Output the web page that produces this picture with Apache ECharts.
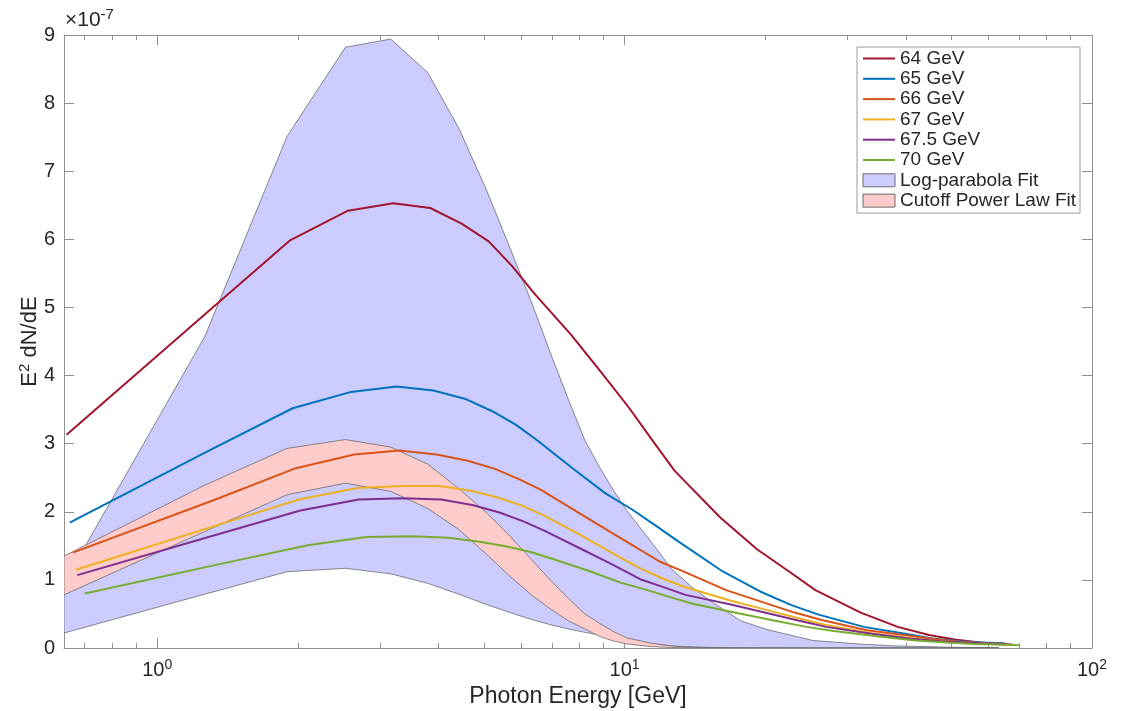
<!DOCTYPE html>
<html>
<head>
<meta charset="utf-8">
<script src="https://cdn.jsdelivr.net/npm/echarts@6/dist/echarts.min.js"></script>
<style>
  html, body { margin: 0; padding: 0; background: #fff; }
  #chart { width: 1128px; height: 711px; }
</style>
</head>
<body>
<div id="chart"></div>
<script>
// all E^2 dN/dE values are in units of 1e-7
const masses = [64, 65, 66, 67, 67.5, 70]
const lineNames = ['64 GeV', '65 GeV', '66 GeV', '67 GeV', '67.5 GeV', '70 GeV']
const lineColors = ['#A2142F', '#0072BD', '#D95319', '#EDB120', '#7E2F8E', '#77AC30']

// photon energy as a fraction of the mass, where each curve was read
const fractions = [0.01, 0.02, 0.03, 0.04, 0.05, 0.06, 0.07, 0.08, 0.09, 0.10,
  0.12, 0.14, 0.16, 0.18, 0.20, 0.25, 0.30, 0.35, 0.40, 0.50, 0.60, 0.70, 0.80, 0.90, 1.00]

const flux64 = [3.13, 4.93, 5.98, 6.42, 6.53, 6.46, 6.23, 5.97, 5.60, 5.21,
  4.60, 4.03, 3.52, 3.03, 2.60, 1.92, 1.45, 1.13, 0.85, 0.52, 0.31, 0.19, 0.12, 0.08, 0.06]
const flux65 = [1.84, 2.91, 3.52, 3.76, 3.84, 3.78, 3.66, 3.48, 3.28, 3.05,
  2.62, 2.27, 2.03, 1.79, 1.57, 1.12, 0.83, 0.63, 0.49, 0.31, 0.22, 0.14, 0.10, 0.08, 0.07]
const flux66 = [1.40, 2.17, 2.64, 2.84, 2.90, 2.84, 2.75, 2.63, 2.48, 2.33,
  2.00, 1.72, 1.48, 1.27, 1.14, 0.85, 0.67, 0.52, 0.41, 0.26, 0.19, 0.13, 0.09, 0.07, 0.06]
const flux67 = [1.15, 1.80, 2.18, 2.35, 2.38, 2.38, 2.31, 2.21, 2.09, 1.95,
  1.66, 1.40, 1.18, 1.02, 0.90, 0.70, 0.56, 0.44, 0.34, 0.22, 0.15, 0.10, 0.08, 0.06, 0.05]
const flux675 = [1.07, 1.67, 2.02, 2.18, 2.20, 2.18, 2.10, 1.99, 1.86, 1.72,
  1.45, 1.22, 1.01, 0.89, 0.78, 0.64, 0.51, 0.40, 0.31, 0.21, 0.14, 0.10, 0.08, 0.06, 0.05]
const flux70 = [0.80, 1.25, 1.51, 1.63, 1.64, 1.62, 1.56, 1.49, 1.41, 1.31,
  1.13, 0.96, 0.85, 0.74, 0.65, 0.51, 0.40, 0.31, 0.25, 0.17, 0.11, 0.08, 0.06, 0.05, 0.04]
const fluxes = [flux64, flux65, flux66, flux67, flux675, flux70]

// fit bands
const bandEnergy = [0.632, 1.264, 1.896, 2.528, 3.16, 3.79, 4.42, 5.06, 5.69, 6.32,
  6.95, 7.58, 8.22, 8.85, 9.48, 10.1, 11.4, 12.6, 13.9, 15.2, 17.7, 20.2, 25.3, 31.6, 37.9, 44.2, 50.6, 63.2]
const logParUpper = [0.95, 4.57, 7.51, 8.82, 8.94, 8.45, 7.63, 6.73, 5.87, 5.08,
  4.32, 3.65, 3.05, 2.65, 2.31, 2.02, 1.56, 1.16, 0.90, 0.70, 0.40, 0.27, 0.11, 0.06, 0.03, 0.02, 0.01, 0.005]
const logParLower = [0.22, 0.79, 1.12, 1.17, 1.09, 0.95, 0.79, 0.64, 0.52, 0.42,
  0.34, 0.28, 0.23, 0.19, 0.15, 0.12, 0.06, 0.03, 0.015, 0.008, 0.003, 0.001, 0, 0, 0, 0, 0, 0]
const cutoffUpper = [1.35, 2.39, 2.93, 3.06, 2.95, 2.70, 2.34, 1.99, 1.64, 1.30,
  0.99, 0.73, 0.50, 0.36, 0.24, 0.15, 0.07, 0.03, 0.012, 0.005, 0.001, 0, 0, 0, 0, 0, 0, 0]
const cutoffLower = [0.78, 1.71, 2.25, 2.42, 2.30, 2.05, 1.74, 1.38, 1.05, 0.78,
  0.57, 0.40, 0.28, 0.17, 0.10, 0.06, 0.02, 0.008, 0.003, 0.001, 0, 0, 0, 0, 0, 0, 0, 0]

const xMajor = [1, 10, 100]
const xMinor = [0.7, 0.8, 0.9, 2, 3, 4, 5, 6, 7, 8, 9, 20, 30, 40, 50, 60, 70, 80, 90]
const yTicks = [0, 1, 2, 3, 4, 5, 6, 7, 8, 9]

const FONT = '"Liberation Sans", Arial, Helvetica, sans-serif'
const AXIS = '#8f8f8f'
const TEXT = '#262626'

function bandSeries (name, upper, lower, fill) {
  return {
    name: name,
    type: 'custom',
    coordinateSystem: 'cartesian2d',
    silent: true,
    clip: true,
    itemStyle: { color: fill },
    data: [[bandEnergy[0], 0]],
    renderItem: function (params, api) {
      const top = upper.map((v, i) => api.coord([bandEnergy[i], v]))
      const bottom = lower.map((v, i) => api.coord([bandEnergy[i], v])).reverse()
      return {
        type: 'polygon',
        shape: { points: top.concat(bottom) },
        style: { fill: fill, stroke: '#6b6b6b', lineWidth: 0.8 }
      }
    },
    z: 1
  }
}

const lineSeries = masses.map((m, s) => ({
  name: lineNames[s],
  type: 'line',
  symbol: 'none',
  smooth: false,
  silent: true,
  lineStyle: { color: lineColors[s], width: 2 },
  itemStyle: { color: lineColors[s] },
  data: fractions.map((f, i) => [m * f, fluxes[s][i]]),
  z: 3
}))

function xAxisDef (pos, ticks, len, main) {
  return {
    type: 'log',
    logBase: 10,
    position: pos,
    min: 0.632,
    max: 100,
    axisLine: { show: main, lineStyle: { color: AXIS, width: 1 } },
    axisTick: { show: true, inside: true, length: len, customValues: ticks, lineStyle: { color: AXIS, width: 1 } },
    axisLabel: main && pos === 'bottom'
      ? {
          show: true,
          customValues: xMajor,
          margin: 10,
          formatter: (v) => '{b|10}{s|' + Math.round(Math.log10(v)) + '}',
          rich: {
            b: { fontSize: 20, fontFamily: FONT, color: TEXT, lineHeight: 24 },
            s: { fontSize: 14, fontFamily: FONT, color: TEXT, verticalAlign: 'top', lineHeight: 14 }
          }
        }
      : { show: false },
    splitLine: { show: false },
    minorTick: { show: false }
  }
}

const xAxes = [
  xAxisDef('bottom', xMajor, 10, true),
  xAxisDef('bottom', xMinor, 5, false),
  xAxisDef('top', xMajor, 10, true),
  xAxisDef('top', xMinor, 5, false)
]
xAxes[0].name = 'Photon Energy [GeV]'
xAxes[0].nameLocation = 'middle'
xAxes[0].nameGap = 35
xAxes[0].nameTextStyle = { fontSize: 23, fontFamily: FONT, color: TEXT }

function yAxisDef (pos) {
  return {
    type: 'value',
    position: pos,
    min: 0,
    max: 9,
    interval: 1,
    axisLine: { show: true, lineStyle: { color: AXIS, width: 1 } },
    axisTick: { show: true, inside: true, length: 10, customValues: yTicks, lineStyle: { color: AXIS, width: 1 } },
    axisLabel: pos === 'left'
      ? { show: true, margin: 9, fontSize: 20, fontFamily: FONT, color: TEXT }
      : { show: false },
    splitLine: { show: false }
  }
}

const yAxes = [yAxisDef('left'), yAxisDef('right')]
yAxes[0].name = '{b|E}{s|2}{b| dN/dE}'
yAxes[0].nameLocation = 'middle'
yAxes[0].nameGap = 21
yAxes[0].nameMoveOverlap = false
yAxes[0].nameTextStyle = {
  rich: {
    b: { fontSize: 22, fontFamily: FONT, color: TEXT, lineHeight: 26 },
    s: { fontSize: 15, fontFamily: FONT, color: TEXT, verticalAlign: 'top', lineHeight: 15 }
  }
}

const series = [
  bandSeries('Log-parabola Fit', logParUpper, logParLower, '#ccccff'),
  bandSeries('Cutoff Power Law Fit', cutoffUpper, cutoffLower, '#ffcccc')
].concat(lineSeries)
series[1].z = 2

// line entries: hide the marker the line legend icon adds
const legendData = lineNames.map((n) => ({ name: n, itemStyle: { opacity: 0 } })).concat([
  { name: 'Log-parabola Fit', icon: 'rect', itemStyle: { color: '#ccccff', borderColor: '#6b6b6b', borderWidth: 1 } },
  { name: 'Cutoff Power Law Fit', icon: 'rect', itemStyle: { color: '#ffcccc', borderColor: '#6b6b6b', borderWidth: 1 } }
])

const option = {
  animation: false,
  backgroundColor: '#fff',
  grid: { left: 64, right: 36, top: 35, bottom: 63, outerBoundsMode: 'none' },
  xAxis: xAxes,
  yAxis: yAxes,
  legend: {
    orient: 'vertical',
    left: 857,
    top: 47,
    data: legendData,
    selectedMode: false,
    itemWidth: 32,
    itemHeight: 13,
    itemGap: 1.3,
    padding: [2, 4, 3, 5],
    backgroundColor: '#fff',
    borderColor: '#9a9a9a',
    borderWidth: 1,
    textStyle: { fontSize: 19, fontFamily: FONT, color: TEXT }
  },
  graphic: [{
    type: 'text',
    left: 65,
    top: 7,
    style: {
      text: '{b|×10}{s|-7}',
      rich: {
        b: { fontSize: 21, fontFamily: FONT, fill: TEXT, lineHeight: 26 },
        s: { fontSize: 15, fontFamily: FONT, fill: TEXT, verticalAlign: 'top', lineHeight: 15 }
      }
    }
  }],
  series: series
}

const chart = echarts.init(document.getElementById('chart'))
chart.setOption(option)
</script>
</body>
</html>
